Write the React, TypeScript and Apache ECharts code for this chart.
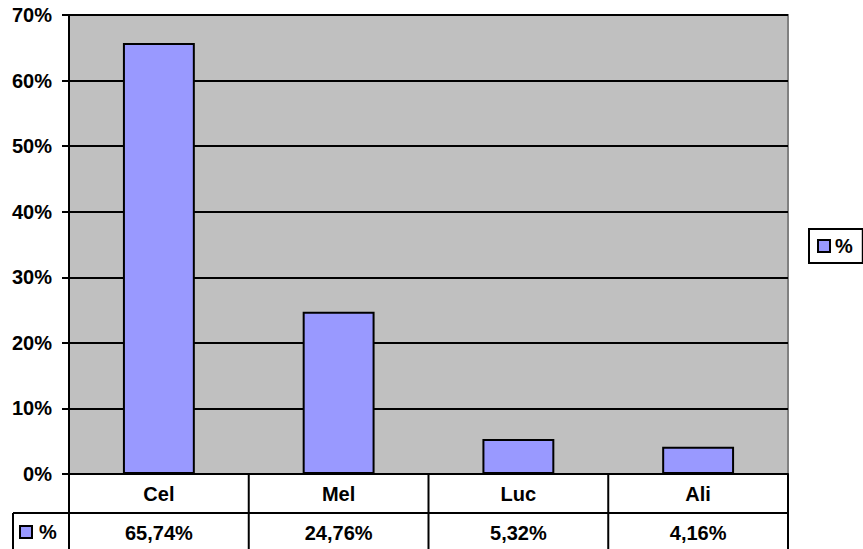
import React, { useEffect, useRef } from "react";
import * as echarts from "echarts";

const categories = ["Cel", "Mel", "Luc", "Ali"];
const values = [65.74, 24.76, 5.32, 4.16];
const seriesName = "%";
const yMax = 70;
const yInterval = 10;

const FONT = "'Liberation Sans', Arial, sans-serif";
const FS = 20;

export default function App() {
  const ref = useRef<HTMLDivElement>(null);
  useEffect(() => {
    if (!ref.current) return;
    const chart = echarts.init(ref.current, undefined, { renderer: "svg" });
    const gl = 69, gt = 15, gw = 719, gh = 459;
    const gb = gt + gh;
    const rowH = 39;
    const tableLeft = 13;
    const lineStyle = { stroke: "#000", lineWidth: 2 };
    const graphics: any[] = [];
    graphics.push({ type: "line", shape: { x1: tableLeft, y1: gb + rowH, x2: gl + gw, y2: gb + rowH }, style: lineStyle });
    graphics.push({ type: "line", shape: { x1: tableLeft, y1: gb + rowH, x2: tableLeft, y2: gb + rowH * 3 }, style: lineStyle });
    const cw = gw / categories.length;
    for (let i = 0; i <= categories.length; i++) {
      const x = gl + cw * i;
      graphics.push({ type: "line", shape: { x1: x, y1: gb, x2: x, y2: gb + rowH * 3 }, style: lineStyle });
    }
    graphics.push({ type: "rect", shape: { x: 20, y: gb + rowH + 13, width: 12, height: 12 }, style: { fill: "#9999FF", stroke: "#000", lineWidth: 2 } });
    graphics.push({ type: "text", x: 39, y: gb + rowH + 19, style: { text: seriesName, font: `bold ${FS}px ${FONT}`, fill: "#000", verticalAlign: "middle" } });

    chart.setOption({
      animation: false,
      textStyle: { fontFamily: FONT },
      grid: {
        left: gl, top: gt, width: gw, height: gh,
        show: true, backgroundColor: "#C0C0C0", borderColor: "#808080", borderWidth: 2,
      },
      legend: {
        data: [seriesName],
        left: 809, top: 229,
        orient: "vertical",
        borderColor: "#000", borderWidth: 2,
        padding: [7, 10, 7, 8],
        itemWidth: 12, itemHeight: 12, itemGap: 5,
        icon: "rect",
        textStyle: { fontFamily: FONT, fontWeight: "bold", fontSize: FS, color: "#000" },
      },
      xAxis: [
        {
          type: "category", data: categories, position: "bottom",
          axisLine: { show: true, lineStyle: { color: "#000", width: 2 } },
          axisTick: { show: false },
          axisLabel: { margin: 10, fontFamily: FONT, fontWeight: "bold", fontSize: FS, color: "#000" },
        },
        {
          type: "category", position: "bottom", offset: rowH,
          data: values.map((v) => v.toFixed(2).replace(".", ",") + "%"),
          axisLine: { show: false }, axisTick: { show: false },
          axisLabel: { margin: 10, fontFamily: FONT, fontWeight: "bold", fontSize: FS, color: "#000" },
        },
      ],
      yAxis: {
        type: "value", min: 0, max: yMax, interval: yInterval,
        axisLine: { show: true, lineStyle: { color: "#000", width: 2 } },
        axisTick: { show: true, length: 7, lineStyle: { color: "#000", width: 2 } },
        axisLabel: { formatter: "{value}%", margin: 17, fontFamily: FONT, fontWeight: "bold", fontSize: FS, color: "#000" },
        splitLine: { show: true, lineStyle: { color: "#000", width: 2 } },
      },
      series: [
        {
          name: seriesName, type: "bar", data: values, barWidth: "40%",
          itemStyle: { color: "#9999FF", borderColor: "#000", borderWidth: 2 },
        },
      ],
      graphic: graphics,
    });
    return () => chart.dispose();
  }, []);
  return <div ref={ref} style={{ width: 863, height: 549, position: "absolute", left: 0, top: 0 }} />;
}
